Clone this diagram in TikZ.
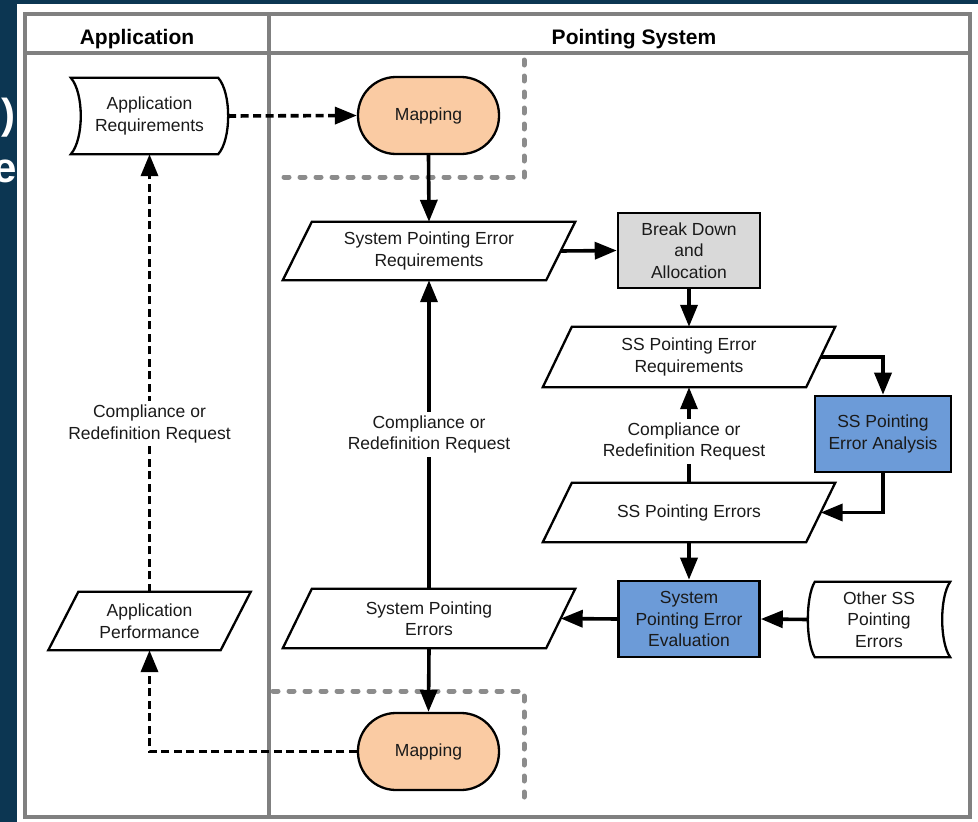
\documentclass[tikz,border=0pt]{standalone}
\usepackage{fontspec}
\setmainfont{Liberation Sans}
\usetikzlibrary{arrows.meta}

\definecolor{navy}{HTML}{0C3652}
\definecolor{framegray}{HTML}{808080}
\definecolor{zonegray}{HTML}{8C8C8C}
\definecolor{peach}{HTML}{FACBA3}
\definecolor{boxgray}{HTML}{D9D9D9}
\definecolor{boxblue}{HTML}{6C9BD8}
\definecolor{ink}{HTML}{1A1A1A}

% parallelogram outline around a (borderless) rectangle node; #2 = half of the slant
\newcommand\paraoutline[2]{%
  \draw[outline] ([xshift=#2]#1.north west) -- ([xshift=#2]#1.north east)
    -- ([xshift=-#2]#1.south east) -- ([xshift=-#2]#1.south west) -- cycle;}

\tikzset{
  txt/.style={font=\fontsize{17.5}{21.5}\selectfont, text=ink, align=center, inner sep=0pt},
  head/.style={font=\fontsize{21}{25}\selectfont\bfseries, text=black, inner sep=0pt},
  outline/.style={draw=black, line width=2.3pt, line join=miter},
  datanode/.style={txt, minimum width=263pt, minimum height=59pt},
  procbox/.style={txt, draw=black, line width=2.6pt, minimum width=141pt, minimum height=76pt},
  mapping/.style={txt, draw=black, line width=2.3pt, fill=peach, rounded corners=38pt,
                  minimum width=141pt, minimum height=77pt},
  flow/.style={draw=black, line width=3.6pt, -{Triangle[length=22pt,width=17pt]}},
  dashflow/.style={flow, dash pattern=on 8pt off 4.5pt},
  zone/.style={draw=zonegray, line width=5pt, line cap=round, dash pattern=on 5pt off 11pt},
  frame/.style={draw=framegray, line width=3.6pt},
  lbl/.style={txt, fill=white, inner sep=3.5pt},
}

\begin{document}
\begin{tikzpicture}[x=1pt, y=-1pt]
\useasboundingbox (0,0) rectangle (978,822);
\clip (0,0) rectangle (978,822);

% slide background and white panel
\fill[navy] (0,0) rectangle (978,822);
\fill[white] (17,4) rectangle (978,822);
\node[anchor=base east, inner sep=0pt, text=white,
      font=\fontsize{42}{50}\selectfont\bfseries] (titleA) at (16,128) {)};
\node[anchor=base east, inner sep=0pt, text=white,
      font=\fontsize{42}{50}\selectfont\bfseries] (titleB) at (17,182) {e};

% swimlane frame
\draw[frame] (25,14) rectangle (970,817);
\draw[frame] (25,53) -- (970,53);
\draw[frame] (269,14) -- (269,817);
\node[head, anchor=base] (hApp) at (137,44) {Application};
\node[head, anchor=base] (hSys) at (634,44) {Pointing System};

% boundary zones around the mapping steps
\draw[zone] (524,60) -- (524,177) -- (273,177);
\draw[zone] (273,691) -- (524,691) -- (524,806);

% --- nodes ---
\node[txt, minimum width=157pt, minimum height=76pt] (appreq) at (149.5,116)
  {Application\\Requirements};
\draw[outline] (appreq.north west) -- ([xshift=-10pt]appreq.north east)
  .. controls ([xshift=3.3pt,yshift=-15pt]appreq.north east)
         and ([xshift=3.3pt,yshift=15pt]appreq.south east)
  .. ([xshift=-10pt]appreq.south east) -- (appreq.south west)
  .. controls ([xshift=13.3pt,yshift=15pt]appreq.south west)
         and ([xshift=13.3pt,yshift=-15pt]appreq.north west)
  .. (appreq.north west) -- cycle;

\node[txt, minimum width=172pt, minimum height=58pt] (appperf) at (149.5,621)
  {Application\\Performance};
\paraoutline{appperf}{15pt}

\node[mapping] (mapA) at (428.5,115.5) {Mapping};
\node[mapping] (mapB) at (428.5,751.5) {Mapping};

\node[datanode, minimum height=58pt] (sper) at (429,251)
  {System Pointing Error\\Requirements};
\paraoutline{sper}{14.5pt}

\node[procbox, fill=boxgray, minimum width=142pt, minimum height=75pt] (bd) at (689,250.5)
  {Break Down\\and\\Allocation};

\node[datanode, minimum height=60pt] (ssper) at (689,357)
  {SS Pointing Error\\Requirements};
\paraoutline{ssper}{14.5pt}

\node[procbox, fill=boxblue, minimum width=136pt] (ssa) at (883,434)
  {SS Pointing\\Error Analysis};

\node[datanode] (sspe) at (689,512.5) {SS Pointing Errors};
\paraoutline{sspe}{14.5pt}

\node[procbox, fill=boxblue] (spee) at (689,619)
  {System\\Pointing Error\\Evaluation};

\node[txt, minimum width=142pt, minimum height=75pt] (other) at (879,619.5)
  {Other SS\\Pointing\\Errors};
\draw[outline] ([xshift=7pt]other.north west) -- (other.north east)
  .. controls ([xshift=-10.7pt,yshift=-15pt]other.north east)
         and ([xshift=-10.7pt,yshift=15pt]other.south east)
  .. (other.south east) -- ([xshift=7pt]other.south west)
  .. controls ([xshift=-2.3pt,yshift=15pt]other.south west)
         and ([xshift=-2.3pt,yshift=-15pt]other.north west)
  .. ([xshift=7pt]other.north west) -- cycle;

\node[datanode] (spe) at (429,618.5) {System Pointing\\Errors};
\paraoutline{spe}{14.5pt}

% --- connectors ---
\draw[dashflow] (appreq.east) -- (mapA.west);
\draw[flow] (mapA.south) -- (sper.north);
\draw[flow] (sper.east) -- (bd.west);
\draw[flow] (bd.south) -- (ssper.north);
\draw[flow] (ssper.east) -| (ssa.north);
\draw[flow] (ssa.south) |- (sspe.east);
\draw[flow] (sspe.north) -- node[lbl, pos=0.43, xshift=-5pt] (lblC)
  {Compliance or\\Redefinition Request} (ssper.south);
\draw[flow] (sspe.south) -- (spee.north);
\draw[flow] (other.west) -- (spee.east);
\draw[flow] (spee.west) -- (spe.east);
\draw[flow] (spe.north) -- node[lbl, pos=0.5] (lblB)
  {Compliance or\\Redefinition Request} (sper.south);
\draw[flow] (spe.south) -- (mapB.north);
\draw[dashflow] (mapB.west) -| (appperf.south);
\draw[dashflow] (appperf.north) -- node[lbl, pos=0.384] (lblA)
  {Compliance or\\Redefinition Request} (appreq.south);
\end{tikzpicture}
\end{document}
